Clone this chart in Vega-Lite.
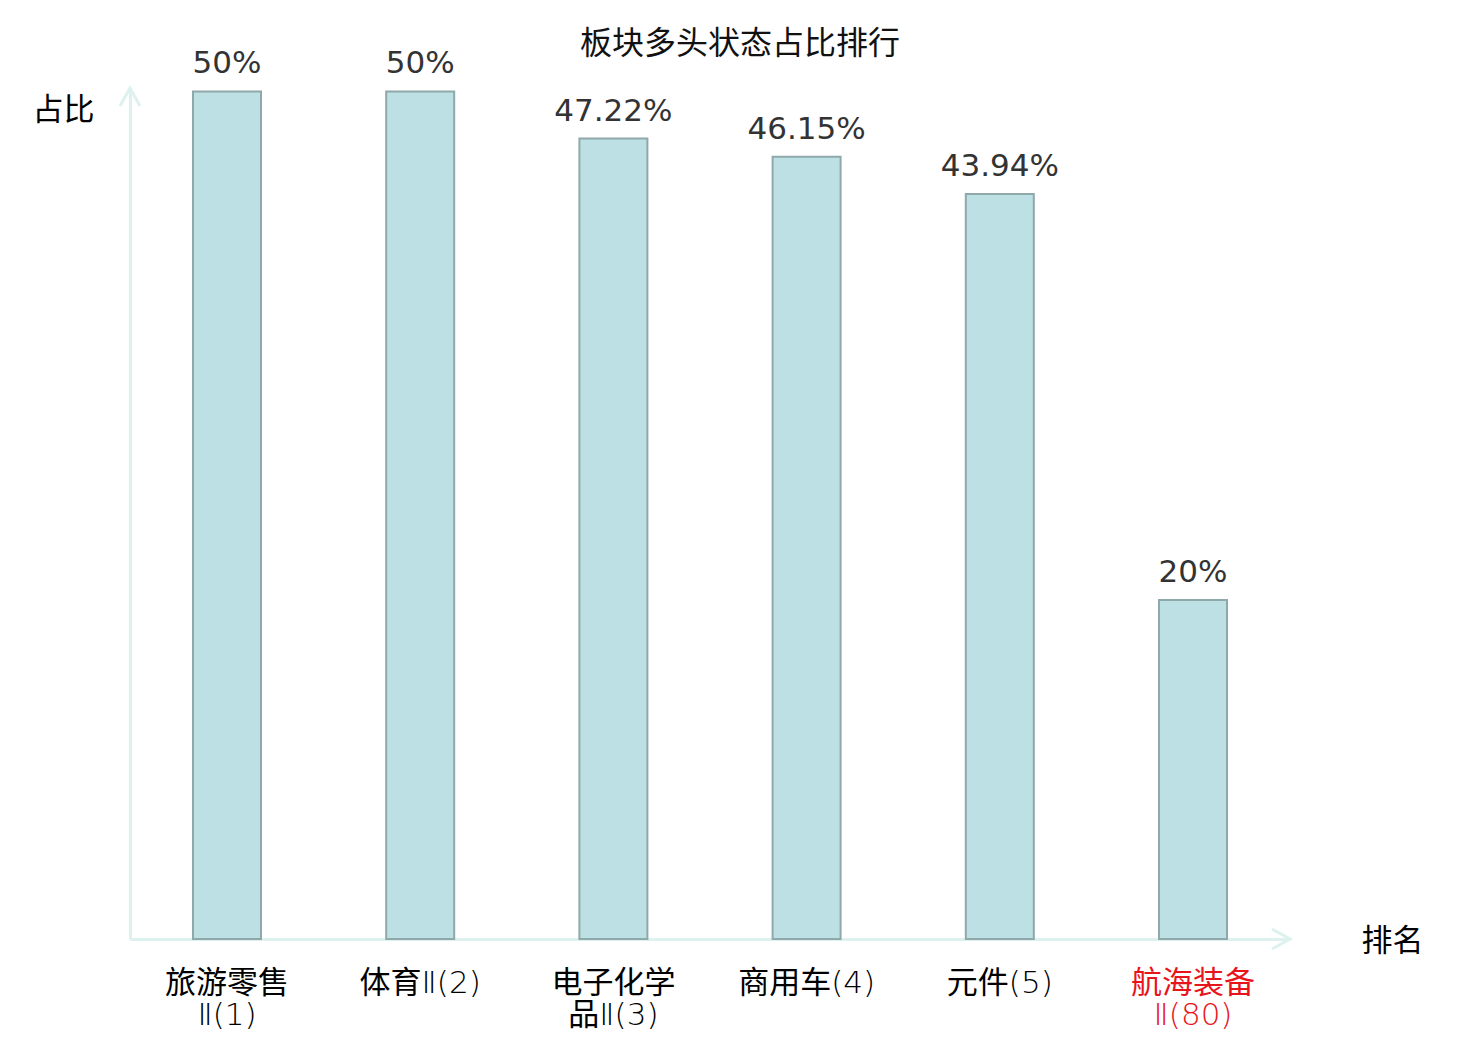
{
  "$schema": "https://vega.github.io/schema/vega-lite/v6.json",
  "autosize": "none",
  "width": 1160,
  "height": 851,
  "padding": {"left": 130, "top": 88, "right": 190, "bottom": 101},
  "background": "white",
  "title": {
    "text": "板块多头状态占比排行",
    "font": "Noto Sans CJK SC",
    "fontSize": 32,
    "fontWeight": "normal",
    "color": "#111111",
    "anchor": "middle",
    "dx": 30,
    "offset": -13
  },
  "data": {
    "values": [
      {"name": "旅游零售\nⅡ(1)", "pct": 50},
      {"name": "体育Ⅱ(2)", "pct": 50},
      {"name": "电子化学\n品Ⅱ(3)", "pct": 47.22},
      {"name": "商用车(4)", "pct": 46.15},
      {"name": "元件(5)", "pct": 43.94},
      {"name": "航海装备\nⅡ(80)", "pct": 20}
    ]
  },
  "layer": [
    {
      "mark": {"type": "bar", "fill": "#BCE0E3", "stroke": "#8FA8AA", "strokeWidth": 2},
      "encoding": {
        "x": {
          "field": "name",
          "type": "nominal",
          "sort": null,
          "scale": {"paddingInner": 0.648, "paddingOuter": 0.326},
          "axis": {
            "title": "排名",
            "titleFont": "Noto Sans CJK SC",
            "titleFontSize": 31,
            "titleFontWeight": "normal",
            "titleColor": "#000000",
            "titleAngle": 0,
            "titleX": 1262,
            "titleY": 2,
            "titleAlign": "center",
            "titleBaseline": "middle",
            "domainColor": "#DDF1EF",
            "domainWidth": 3,
            "ticks": false,
            "labelAngle": 0,
            "labelFont": "DejaVu Sans Light, Noto Sans CJK SC",
            "labelFontSize": 31,
            "labelFontWeight": "normal",
            "labelLineHeight": 32,
            "labelPadding": 29,
            "labelExpr": "split(datum.label, '\\n')",
            "labelColor": {"expr": "indexof(datum.label, '(80)') >= 0 ? '#E8141C' : '#000000'"}
          }
        },
        "y": {
          "field": "pct",
          "type": "quantitative",
          "scale": {"domain": [0, 50.2], "nice": false},
          "axis": {
            "title": "占比",
            "titleFont": "Noto Sans CJK SC",
            "titleFontSize": 31,
            "titleFontWeight": "normal",
            "titleColor": "#000000",
            "titleAngle": 0,
            "titleX": -67,
            "titleY": 22,
            "titleAlign": "center",
            "titleBaseline": "middle",
            "domainColor": "#DDF1EF",
            "domainWidth": 3,
            "ticks": false,
            "labels": false,
            "grid": false
          }
        }
      }
    },
    {
      "mark": {
        "type": "text",
        "font": "DejaVu Sans",
        "fontSize": 31,
        "color": "#333333",
        "baseline": "alphabetic",
        "dy": -18
      },
      "encoding": {
        "x": {"field": "name", "type": "nominal", "sort": null},
        "y": {"field": "pct", "type": "quantitative", "scale": {"domain": [0, 50.2], "nice": false}},
        "text": {"field": "label"}
      },
      "transform": [{"calculate": "datum.pct + '%'", "as": "label"}]
    },
    {
      "data": {"values": [{"axis": "y"}]},
      "mark": {
        "type": "point",
        "shape": "M-1,1.8L0,0L1,1.8",
        "size": 400,
        "filled": false,
        "stroke": "#DDF1EF",
        "strokeWidth": 3,
        "opacity": 1,
        "x": 0,
        "y": 0
      },
      "encoding": {}
    },
    {
      "data": {"values": [{"axis": "x"}]},
      "mark": {
        "type": "point",
        "shape": "M-1.8,-1L0,0L-1.8,1",
        "size": 400,
        "filled": false,
        "stroke": "#DDF1EF",
        "strokeWidth": 3,
        "opacity": 1,
        "x": {"expr": "width"},
        "y": {"expr": "height"}
      },
      "encoding": {}
    }
  ],
  "config": {
    "view": {"stroke": null}
  }
}
